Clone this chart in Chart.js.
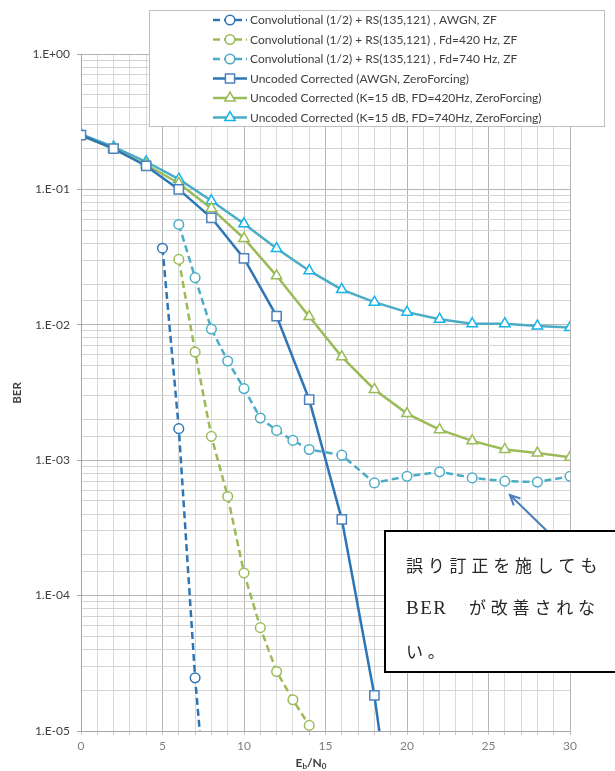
<!DOCTYPE html>
<html>
<head>
<meta charset="utf-8">
<script src="https://cdn.jsdelivr.net/npm/chart.js@4.4.1/dist/chart.umd.min.js"></script>
<style>
  html, body { margin: 0; padding: 0; background: #ffffff; }
  #wrap { width: 615px; height: 771px; position: relative; }
</style>
</head>
<body>
<div id="wrap"><canvas id="c" width="615" height="771"></canvas></div>
<script>
// Eb/N0 sample points (dB) for each curve
const ebn0ConvAwgn = [5, 6, 7, 8];
const ebn0Conv420 = [6, 7, 8, 9, 10, 11, 12, 13, 14];
const ebn0Conv740 = [6, 7, 8, 9, 10, 11, 12, 13, 14, 16, 18, 20, 22, 24, 26, 28, 30];
const ebn0UncodedAwgn = [0, 2, 4, 6, 8, 10, 12, 14, 16, 18, 20];
const ebn0Uncoded = [0, 2, 4, 6, 8, 10, 12, 14, 16, 18, 20, 22, 24, 26, 28, 30];

// Bit error rates
const berConvAwgn = [0.0368, 0.00171, 0.0000247, 0.0000010];
const berConv420 = [0.0304, 0.0063, 0.00150, 0.00054, 0.000147, 0.000058, 0.0000275, 0.0000170, 0.0000110];
const berConv740 = [0.0551, 0.0223, 0.0093, 0.0054, 0.00338, 0.00205, 0.00166, 0.00140, 0.00120,
                    0.00109, 0.00068, 0.00076, 0.00082, 0.00074, 0.00070, 0.00069, 0.00076];
const berUncodedAwgn = [0.252, 0.200, 0.149, 0.100, 0.0617, 0.0309, 0.0116, 0.00280, 0.000366, 0.0000183, 0.00000033];
const berUncoded420 = [0.250, 0.199, 0.152, 0.111, 0.0724, 0.0434, 0.0230, 0.0115, 0.0058, 0.00333,
                       0.00221, 0.00168, 0.00139, 0.00120, 0.00113, 0.00105];
const berUncoded740 = [0.256, 0.206, 0.160, 0.119, 0.0824, 0.0557, 0.0366, 0.0251, 0.0182, 0.0147,
                       0.0124, 0.0110, 0.0102, 0.0102, 0.0098, 0.00955];

const seriesLabels = [
  'Convolutional (1/2) + RS(135,121) , AWGN, ZF',
  'Convolutional (1/2) + RS(135,121) , Fd=420 Hz, ZF',
  'Convolutional (1/2) + RS(135,121) , Fd=740 Hz, ZF',
  'Uncoded Corrected (AWGN, ZeroForcing)',
  'Uncoded Corrected (K=15 dB, FD=420Hz, ZeroForcing)',
  'Uncoded Corrected (K=15 dB, FD=740Hz, ZeroForcing)'
];

const xTickMin = 0, xTickMax = 30;
const yMin = 1e-5, yMax = 1;

const noteLines = ['誤り訂正を施しても', 'BER　が改善されな', 'い。'];

const pts = (xs, ys) => xs.map((x, i) => ({ x: x, y: ys[i] }));

const BLUE = '#2e75b6', GREEN = '#9bbb59', CYAN = '#4bacc6';
const DASH = [7, 4];

function dashedSeries(label, data, color) {
  return {
    label, data, borderColor: color, borderWidth: 2.5, borderDash: DASH,
    pointStyle: 'circle', pointRadius: 4.8, pointBorderWidth: 1.5,
    pointBorderColor: color, pointBackgroundColor: '#ffffff', tension: 0
  };
}
function solidSeries(label, data, color, markColor, style, radius) {
  return {
    label, data, borderColor: color, borderWidth: 2.5,
    pointStyle: style, pointRadius: radius, pointBorderWidth: 1.5,
    pointBorderColor: markColor, pointBackgroundColor: '#ffffff', tension: 0
  };
}

const datasets = [
  dashedSeries(seriesLabels[0], pts(ebn0ConvAwgn, berConvAwgn), BLUE),
  dashedSeries(seriesLabels[1], pts(ebn0Conv420, berConv420), GREEN),
  dashedSeries(seriesLabels[2], pts(ebn0Conv740, berConv740), CYAN),
  solidSeries(seriesLabels[3], pts(ebn0UncodedAwgn, berUncodedAwgn), BLUE, '#4f81bd', 'rect', 6.5),
  solidSeries(seriesLabels[4], pts(ebn0Uncoded, berUncoded420), GREEN, GREEN, 'triangle', 6),
  solidSeries(seriesLabels[5], pts(ebn0Uncoded, berUncoded740), CYAN, '#17b3e8', 'triangle', 6)
];

const isDecade = v => Math.abs(Math.log10(v) - Math.round(Math.log10(v))) < 1e-6;
const sci = v => {
  const e = Math.round(Math.log10(v));
  return '1.E' + (e < 0 ? '-' : '+') + String(Math.abs(e)).padStart(2, '0');
};

// Legend box, axis titles and the callout, drawn on top of the plot
const overlay = {
  id: 'overlay',
  afterDraw(chart) {
    const ctx = chart.ctx;
    ctx.save();

    // y axis title
    ctx.save();
    ctx.translate(17, 393);
    ctx.rotate(-Math.PI / 2);
    ctx.font = 'bold 11.5px Lato, "Liberation Sans", sans-serif';
    ctx.fillStyle = '#404040';
    ctx.textAlign = 'center';
    ctx.textBaseline = 'middle';
    ctx.fillText('BER', 0, 0);
    ctx.restore();

    // x axis title  E_b/N_0
    {
      const big = 'bold 12px Lato, "Liberation Sans", sans-serif';
      const small = 'bold 8px Lato, "Liberation Sans", sans-serif';
      const parts = [['E', big, 0], ['b', small, 2], ['/N', big, 0], ['0', small, 2]];
      let total = 0;
      parts.forEach(p => { ctx.font = p[1]; total += ctx.measureText(p[0]).width; });
      let x = 311 - total / 2;
      const base = 767;
      ctx.fillStyle = '#404040';
      ctx.textAlign = 'left';
      ctx.textBaseline = 'alphabetic';
      parts.forEach(p => {
        ctx.font = p[1];
        ctx.fillText(p[0], x, base + p[2]);
        x += ctx.measureText(p[0]).width;
      });
    }

    // legend
    const lx = 149.5, ly = 10.5, lw = 455, lh = 116;
    ctx.fillStyle = '#ffffff';
    ctx.fillRect(lx, ly, lw, lh);
    ctx.strokeStyle = '#bfbfbf';
    ctx.lineWidth = 1;
    ctx.strokeRect(lx, ly, lw, lh);
    const rowY = [20, 39.5, 59, 78.5, 98, 117.5];
    chart.data.datasets.forEach((ds, i) => {
      const y = rowY[i];
      ctx.save();
      ctx.strokeStyle = ds.borderColor;
      ctx.lineWidth = ds.borderWidth;
      ctx.setLineDash(ds.borderDash || []);
      ctx.beginPath();
      ctx.moveTo(213, y);
      ctx.lineTo(247, y);
      ctx.stroke();
      ctx.restore();
      ctx.save();
      ctx.lineWidth = ds.pointBorderWidth;
      ctx.strokeStyle = ds.pointBorderColor;
      ctx.fillStyle = ds.pointBackgroundColor;
      Chart.helpers.drawPoint(ctx, { pointStyle: ds.pointStyle, radius: ds.pointRadius, rotation: 0, borderWidth: ds.pointBorderWidth }, 230, y);
      ctx.restore();
      ctx.fillStyle = '#404040';
      ctx.font = '12px Lato, "Liberation Sans", sans-serif';
      ctx.textAlign = 'left';
      ctx.textBaseline = 'middle';
      ctx.fillText(ds.label, 250, y + 0.5);
    });

    // callout arrow
    const ax0 = 547, ay0 = 531, ax1 = 510, ay1 = 495;
    ctx.strokeStyle = '#4a7ebb';
    ctx.lineWidth = 2;
    ctx.beginPath();
    ctx.moveTo(ax0, ay0);
    ctx.lineTo(ax1, ay1);
    ctx.stroke();
    const ang = Math.atan2(ay1 - ay0, ax1 - ax0);
    ctx.beginPath();
    ctx.moveTo(ax1 + 11 * Math.cos(ang + Math.PI - 0.45), ay1 + 11 * Math.sin(ang + Math.PI - 0.45));
    ctx.lineTo(ax1, ay1);
    ctx.lineTo(ax1 + 11 * Math.cos(ang + Math.PI + 0.45), ay1 + 11 * Math.sin(ang + Math.PI + 0.45));
    ctx.stroke();

    // callout box
    ctx.fillStyle = '#ffffff';
    ctx.fillRect(385, 531, 240, 141);
    ctx.strokeStyle = '#000000';
    ctx.lineWidth = 2;
    ctx.strokeRect(385, 531, 240, 141);

    // callout text
    ctx.fillStyle = '#262626';
    ctx.textBaseline = 'middle';
    ctx.textAlign = 'left';
    const jp = '17px "Noto Sans CJK JP", sans-serif';
    const pitch = 21.8;
    const rowsY = [566, 608, 652];
    noteLines.forEach((line, r) => {
      let x = 406;
      const chars = Array.from(line);
      let k = 0;
      if (line.startsWith('BER')) {
        ctx.font = '19px "Liberation Serif", serif';
        let bx = 406;
        for (const ch of 'BER') {
          ctx.fillText(ch, bx, rowsY[r] + 1);
          bx += ctx.measureText(ch).width + 1.5;
        }
        x = 469;
        k = 4;
      }
      ctx.font = jp;
      for (; k < chars.length; k++) {
        ctx.fillText(chars[k], x, rowsY[r]);
        x += pitch;
      }
    });

    ctx.restore();
  }
};

new Chart(document.getElementById('c'), {
  type: 'line',
  data: { datasets },
  options: {
    responsive: false,
    animation: false,
    devicePixelRatio: 1,
    layout: { padding: { top: 54, right: 45, left: 0, bottom: 0 } },
    plugins: { legend: { display: false }, tooltip: { enabled: false } },
    scales: {
      x: {
        type: 'linear',
        min: xTickMin,
        max: xTickMax,
        afterFit: s => { s.height = 40; },
        border: { color: '#a6a6a6' },
        grid: {
          color: c => (c.tick && c.tick.value % 5 === 0) ? '#b5b5b5' : '#d9d9d9',
          tickColor: '#c8c8c8',
          tickLength: 4,
          lineWidth: 1
        },
        ticks: {
          stepSize: 1,
          autoSkip: false,
          maxRotation: 0,
          padding: 4,
          color: '#7f7f7f',
          font: { family: 'Lato, "Liberation Sans", sans-serif', size: 12 },
          callback: v => (v % 5 === 0 ? String(v) : '')
        }
      },
      y: {
        type: 'logarithmic',
        min: yMin,
        max: yMax,
        afterFit: s => { s.width = 81; },
        border: { color: '#a6a6a6' },
        grid: {
          color: c => (c.tick && isDecade(c.tick.value)) ? '#b5b5b5' : '#d4d4d4',
          tickColor: c => (c.tick && isDecade(c.tick.value)) ? '#a6a6a6' : 'rgba(0,0,0,0)',
          tickLength: 4,
          lineWidth: 1
        },
        ticks: {
          autoSkip: false,
          padding: 7,
          color: '#404040',
          font: { family: 'Lato, "Liberation Sans", sans-serif', size: 12 },
          callback: v => (isDecade(v) ? sci(v) : '')
        }
      }
    }
  },
  plugins: [overlay]
});
</script>
</body>
</html>
